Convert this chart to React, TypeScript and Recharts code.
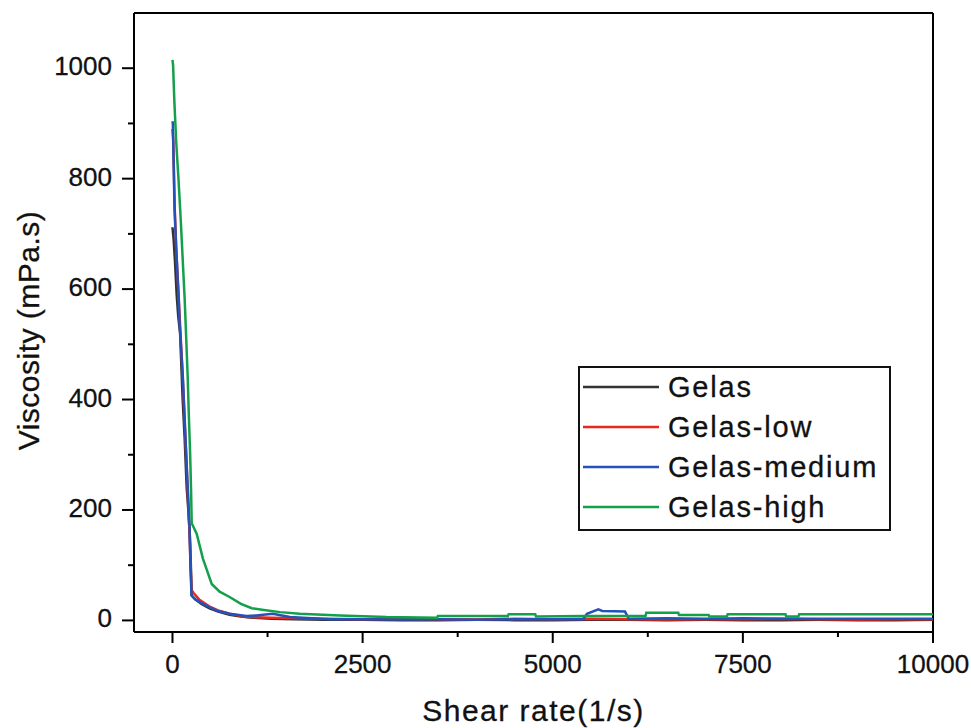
import React from 'react';
import { LineChart, Line, XAxis, YAxis, ReferenceLine, Legend } from 'recharts';

const FONT = '"Liberation Sans", Arial, sans-serif';

const seriesNames = ['Gelas', 'Gelas-low', 'Gelas-medium', 'Gelas-high'];
const seriesColors = ['#333333', '#e8271f', '#2352b8', '#14a04a'];

const gelasRate = [0, 15, 33, 55, 76, 100, 134, 160, 187, 208, 230, 244, 253, 300, 380, 487, 600, 751, 900, 1050, 1300, 1600, 2000, 2500, 3000, 3500, 4000, 4500, 5000, 5500, 6000, 6500, 7000, 7500, 8000, 8500, 9000, 9500, 10000];
const gelasVisc = [712, 690, 650, 590, 550, 520, 400, 330, 240, 200, 150, 90, 45, 38, 30, 22, 16, 10, 7, 5, 3, 2, 1, 1, 0.5, 0.5, 1, 0.5, 0.5, 1, 1, 0.5, 1, 0.5, 0.5, 1, 0.5, 0.5, 1];

const lowRate = [0, 10, 30, 50, 85, 135, 180, 222, 238, 250, 275, 350, 487, 600, 751, 971, 1300, 1600, 2000, 2500, 3000, 3500, 4000, 4500, 5000, 5500, 6000, 6500, 7000, 7500, 8000, 8500, 9000, 9500, 10000];
const lowVisc = [890, 870, 745, 670, 575, 440, 300, 165, 100, 55, 50, 38, 25, 18, 12, 6, 5, 4, 3, 2, 3, 2, 1.5, 3, 2, 3, 2, 1.5, 2, 2, 3, 2, 1.5, 2, 2];

const mediumRate = [0, 5, 26, 48, 83, 92, 136, 180, 224, 237, 250, 300, 400, 487, 600, 751, 971, 1100, 1317, 1545, 2070, 2500, 3000, 3500, 4000, 4500, 5000, 5400, 5450, 5600, 5650, 5950, 6000, 6500, 7000, 7500, 8000, 8500, 9000, 9500, 10000];
const mediumVisc = [904, 900, 749, 676, 580, 543, 441, 302, 169, 97, 45, 38, 30, 24, 17, 12, 8, 9, 12, 6, 2, 2, 1.5, 2, 1, 2, 2, 2, 12, 20, 17, 16, 3, 4, 3, 4, 3, 3, 3, 3, 3];

const highRate = [0, 8, 25, 50, 80, 110, 135, 160, 180, 200, 215, 232, 245, 253, 318, 400, 516, 620, 757, 900, 1043, 1200, 1416, 1673, 2200, 2815, 3480, 3490, 4410, 4420, 4770, 4780, 5400, 6220, 6230, 6650, 6660, 7050, 7060, 7290, 7300, 8060, 8070, 8230, 8240, 10000];
const highVisc = [1015, 1005, 939, 864, 797, 722, 652, 583, 513, 441, 371, 302, 232, 176, 157, 112, 66, 52, 42, 30, 22, 19, 15, 12, 9, 6, 5, 8, 8, 11, 11, 7, 8, 8, 14, 14, 10, 10, 7, 7, 11, 11, 7, 7, 11, 11];

const xMajorTicks = [0, 2500, 5000, 7500, 10000];
const xAllTicks = [0, 1250, 2500, 3750, 5000, 6250, 7500, 8750, 10000];
const yMajorTicks = [0, 200, 400, 600, 800, 1000];
const yAllTicks = [0, 100, 200, 300, 400, 500, 600, 700, 800, 900, 1000];

const xDomain = [-506, 10000];
const yDomain = [-21, 1100];

const toPoints = (rate: number[], visc: number[]) => rate.map((r, i) => ({ x: r, y: visc[i] }));
const seriesData = [
  toPoints(gelasRate, gelasVisc),
  toPoints(lowRate, lowVisc),
  toPoints(mediumRate, mediumVisc),
  toPoints(highRate, highVisc),
];

const XTick = (props: any) => {
  const { x, y, payload } = props;
  const major = xMajorTicks.includes(payload.value);
  return (
    <g>
      <line x1={x} x2={x} y1={y} y2={y + (major ? 11 : 5)} stroke="#000" strokeWidth={2} />
      {major && (
        <text x={x} y={y + 41} textAnchor="middle" fontFamily={FONT} fontSize={26} fill="#111" stroke="#111" strokeWidth={0.3}>
          {payload.value}
        </text>
      )}
    </g>
  );
};

const YTick = (props: any) => {
  const { x, y, payload } = props;
  const major = yMajorTicks.includes(payload.value);
  return (
    <g>
      <line x1={x} x2={x - (major ? 12 : 6)} y1={y} y2={y} stroke="#000" strokeWidth={2} />
      {major && (
        <text x={x - 22} y={y + 7} textAnchor="end" fontFamily={FONT} fontSize={26} fill="#111" stroke="#111" strokeWidth={0.3}>
          {payload.value}
        </text>
      )}
    </g>
  );
};

const LegendBox = () => (
  <svg width={313} height={165} style={{ display: 'block' }}>
    <rect x={1} y={1} width={311} height={163} fill="#fff" stroke="#111" strokeWidth={2} />
    {seriesNames.map((name, i) => (
      <g key={name}>
        <line x1={5} x2={81} y1={21 + i * 40} y2={21 + i * 40} stroke={seriesColors[i]} strokeWidth={2.5} />
        <text x={90} y={31 + i * 40} fontFamily={FONT} fontSize={29} letterSpacing={1.8} fill="#111" stroke="#111" strokeWidth={0.3}>
          {name}
        </text>
      </g>
    ))}
  </svg>
);

export default function App() {
  return (
    <div style={{ position: 'absolute', left: 0, top: 0, width: 971, height: 728, background: '#fff' }}>
      <LineChart width={971} height={728} margin={{ top: 13, right: 38, bottom: 0, left: 0 }}>
        <XAxis
          type="number"
          dataKey="x"
          domain={xDomain}
          ticks={xAllTicks}
          interval={0}
          allowDataOverflow
          height={96}
          tickSize={0}
          tickMargin={0}
          tickLine={false}
          axisLine={{ stroke: '#000', strokeWidth: 2 }}
          tick={<XTick />}
          label={{
            content: (lp: any) => {
              const vb = lp.viewBox;
              return (
                <text x={vb.x + vb.width / 2} y={vb.y + 89} textAnchor="middle" fontFamily={FONT} fontSize={30} letterSpacing={1.5} fill="#111" stroke="#111" strokeWidth={0.3}>
                  Shear rate(1/s)
                </text>
              );
            },
          }}
        />
        <YAxis
          type="number"
          dataKey="y"
          domain={yDomain}
          ticks={yAllTicks}
          interval={0}
          allowDataOverflow
          width={134}
          tickSize={0}
          tickMargin={0}
          tickLine={false}
          axisLine={{ stroke: '#000', strokeWidth: 2 }}
          tick={<YTick />}
          label={{
            content: (lp: any) => {
              const vb = lp.viewBox;
              const cx = vb.x + 28;
              const cy = vb.y + vb.height / 2 + 8;
              return (
                <text x={cx} y={cy} transform={`rotate(-90 ${cx} ${cy})`} textAnchor="middle" dominantBaseline="central" fontFamily={FONT} fontSize={30} letterSpacing={0.5} fill="#111" stroke="#111" strokeWidth={0.3}>
                  Viscosity (mPa.s)
                </text>
              );
            },
          }}
        />
        <ReferenceLine y={1100} stroke="#000" strokeWidth={2} />
        <ReferenceLine x={10000} stroke="#000" strokeWidth={2} />
        {seriesData.map((d, i) => (
          <Line
            key={seriesNames[i]}
            data={d}
            dataKey="y"
            name={seriesNames[i]}
            type="linear"
            stroke={seriesColors[i]}
            strokeWidth={2.5}
            dot={false}
            activeDot={false}
            isAnimationActive={false}
          />
        ))}
        <Legend
          layout="vertical"
          align="center"
          verticalAlign="middle"
          content={<LegendBox />}
          wrapperStyle={{ position: 'absolute', left: 578, top: 366, width: 313, height: 165 }}
        />
      </LineChart>
    </div>
  );
}
